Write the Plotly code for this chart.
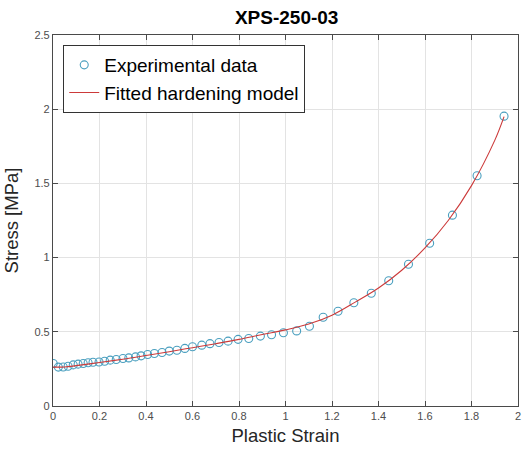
import plotly.graph_objects as go

exp_strain = [0.001, 0.023, 0.044, 0.065, 0.087, 0.108, 0.130, 0.151, 0.172, 0.198,
              0.222, 0.246, 0.272, 0.301, 0.326, 0.355, 0.379, 0.407, 0.436, 0.469,
              0.500, 0.533, 0.567, 0.600, 0.640, 0.675, 0.714, 0.753, 0.796, 0.842,
              0.892, 0.940, 0.991, 1.048, 1.103, 1.162, 1.226, 1.294, 1.369, 1.444,
              1.529, 1.620, 1.718, 1.824, 1.940]
exp_stress = [0.286, 0.262, 0.263, 0.268, 0.277, 0.282, 0.286, 0.291, 0.295, 0.297,
              0.302, 0.309, 0.313, 0.320, 0.324, 0.331, 0.338, 0.347, 0.354, 0.361,
              0.370, 0.376, 0.388, 0.399, 0.410, 0.420, 0.428, 0.437, 0.449, 0.455,
              0.471, 0.480, 0.494, 0.506, 0.537, 0.598, 0.638, 0.696, 0.760, 0.844,
              0.955, 1.097, 1.286, 1.552, 1.953]

# Fitted hardening model
fit_strain = [0.0, 0.05, 0.1, 0.2, 0.3, 0.4, 0.5, 0.6, 0.7, 0.8, 0.9, 1.0, 1.1,
              1.2, 1.3, 1.4, 1.5, 1.6, 1.7, 1.8, 1.9, 1.94]
fit_stress = [0.262, 0.263, 0.272, 0.293, 0.315, 0.340, 0.366, 0.393, 0.420, 0.449,
              0.482, 0.513, 0.552, 0.612, 0.700, 0.795, 0.915, 1.065, 1.250, 1.485,
              1.790, 1.950]

x_ticks = [0, 0.2, 0.4, 0.6, 0.8, 1, 1.2, 1.4, 1.6, 1.8, 2]
x_labels = ["0", "0.2", "0.4", "0.6", "0.8", "1", "1.2", "1.4", "1.6", "1.8", "2"]
y_ticks = [0, 0.5, 1, 1.5, 2, 2.5]
y_labels = ["0", "0.5", "1", "1.5", "2", "2.5"]

FONT = "Arial, Liberation Sans, sans-serif"

fig = go.Figure()
fig.add_trace(go.Scatter(
    x=exp_strain, y=exp_stress, mode="markers", name="Experimental data",
    marker=dict(symbol="circle-open", size=8, color="#4a9fbf", line=dict(width=1.1)),
))
fig.add_trace(go.Scatter(
    x=fit_strain, y=fit_stress, mode="lines", name="Fitted hardening model",
    line=dict(color="#cc3a3a", width=1.1, shape="spline"),
))

axis_common = dict(
    showgrid=True, gridcolor="#e3e3e3", gridwidth=1,
    showline=True, linecolor="#4a4a4a", linewidth=1.2, mirror="ticks",
    ticks="inside", ticklen=5, tickcolor="#4a4a4a",
    tickfont=dict(family=FONT, size=11, color="#4d4d4d"),
    zeroline=False,
)

fig.update_layout(
    width=526, height=453,
    margin=dict(l=53, r=5, t=35, b=47),
    paper_bgcolor="white", plot_bgcolor="white",
    title=dict(text="<b>XPS-250-03</b>", x=0.545, xanchor="center", y=0.962, yanchor="middle",
               font=dict(family=FONT, size=19, color="#000000")),
    xaxis=dict(range=[0, 2], tickvals=x_ticks, ticktext=x_labels,
               title=dict(text="Plastic Strain", standoff=7,
                          font=dict(family=FONT, size=18.5, color="#262626")),
               **axis_common),
    yaxis=dict(range=[0, 2.5], tickvals=y_ticks, ticktext=y_labels,
               title=dict(text="Stress [MPa]", standoff=10,
                          font=dict(family=FONT, size=18.5, color="#262626")),
               **axis_common),
    legend=dict(x=0.022, y=0.973, xanchor="left", yanchor="top",
                bgcolor="white", bordercolor="#333333", borderwidth=1,
                font=dict(family=FONT, size=19, color="#000000"),
                itemwidth=30, tracegroupgap=0),
    showlegend=True,
)

fig.write_html("out.html")
